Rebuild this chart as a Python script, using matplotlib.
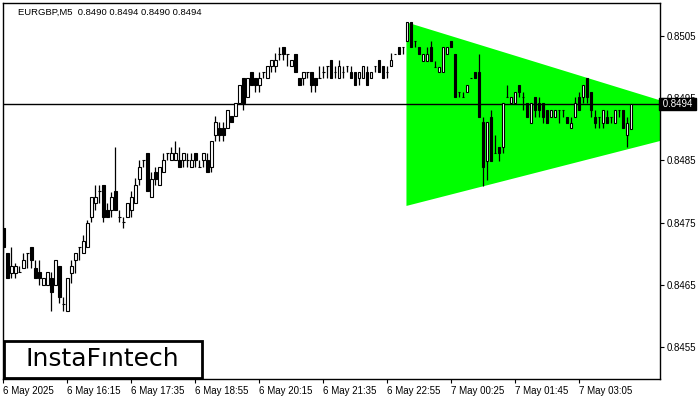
import matplotlib
matplotlib.use("Agg")
import matplotlib.pyplot as plt
from matplotlib.patches import Polygon, Rectangle
import numpy as np

# EURGBP M5 candles (bar 0 = 6 May 14:55)
opens = [
    .84741, .84701, .84669, .84669, .84671, .84678, .84701, .84711, .84678, .84671,
    .84650, .84650, .84661, .84650, .84680, .84619, .84609, .84669, .84690, .84711,
    .84701, .84711, .84759, .84781, .84801, .84810, .84770, .84770, .84801, .84759,
    .84751, .84759, .84770, .84781, .84820, .84851, .84862, .84791, .84831, .84810,
    .84831, .84862, .84851, .84851, .84851, .84851, .84851, .84839, .84862, .84839,
    .84851, .84851, .84839, .84891, .84902, .84902, .84902, .84921, .84921, .84942,
    .84982, .84952, .84992, .84982, .84971, .84992, .84982, .85002, .85002, .85021,
    .85032, .85021, .85002, .85021, .84982, .84982, .84992, .84992, .84982, .84982,
    .84992, .85002, .85011, .84992, .84982, .84992, .85002, .84992, .84992, .84982,
    .84982, .84992, .84982, .85002, .85011, .85002, .84992, .85002, .85021, .85032,
    .85032, .85042, .85073, .85042, .85032, .85010, .85010, .85032, .85000, .84992,
    .84992, .85021, .85042, .85021, .84960, .84952, .84960, .84982, .84992, .84992,
    .84912, .84849, .84920, .84862, .84872, .84872, .84952, .84942, .84942, .84971,
    .84952, .84942, .84910, .84952, .84942, .84942, .84931, .84920, .84920, .84931,
    .84931, .84920, .84902, .84920, .84952, .84952, .84982, .84960, .84920, .84920,
    .84910, .84920, .84920, .84910, .84931, .84931, .84891, .84900,
]
highs = [
    .84741, .84701, .84711, .84685, .84680, .84701, .84701, .84711, .84690, .84690,
    .84661, .84671, .84671, .84690, .84680, .84630, .84661, .84690, .84701, .84711,
    .84730, .84754, .84791, .84810, .84810, .84810, .84781, .84799, .84872, .84770,
    .84759, .84781, .84801, .84822, .84851, .84851, .84862, .84831, .84839, .84839,
    .84862, .84862, .84872, .84881, .84872, .84862, .84862, .84862, .84862, .84851,
    .84862, .84862, .84881, .84921, .84912, .84912, .84931, .84921, .84942, .84971,
    .84982, .84982, .84992, .84982, .84992, .84992, .85002, .85011, .85023, .85032,
    .85032, .85021, .85011, .85021, .84982, .84992, .84992, .84992, .84982, .85002,
    .85002, .85002, .85011, .85002, .85011, .85002, .85002, .85002, .84992, .84992,
    .85002, .85002, .84992, .85002, .85011, .85002, .85002, .85023, .85021, .85032,
    .85032, .85073, .85073, .85042, .85032, .85021, .85032, .85042, .85010, .85000,
    .85032, .85032, .85042, .85021, .84960, .84960, .84971, .84982, .84992, .85021,
    .84920, .84912, .84931, .84891, .84872, .84942, .84971, .84952, .84960, .84971,
    .84960, .84942, .84942, .84952, .84952, .84942, .84931, .84931, .84931, .84931,
    .84931, .84920, .84920, .84952, .84960, .84971, .84982, .84960, .84931, .84920,
    .84931, .84931, .84920, .84931, .84931, .84931, .84920, .84940,
]
lows = [
    .84701, .84661, .84661, .84661, .84671, .84678, .84678, .84678, .84661, .84650,
    .84650, .84650, .84609, .84650, .84621, .84609, .84609, .84653, .84669, .84690,
    .84701, .84711, .84751, .84770, .84781, .84751, .84759, .84759, .84770, .84751,
    .84741, .84759, .84759, .84781, .84810, .84839, .84801, .84791, .84810, .84810,
    .84831, .84851, .84851, .84851, .84839, .84839, .84839, .84839, .84839, .84839,
    .84839, .84831, .84831, .84881, .84881, .84881, .84902, .84912, .84921, .84942,
    .84931, .84952, .84971, .84960, .84960, .84982, .84982, .84992, .84992, .85011,
    .85011, .85002, .85002, .84992, .84971, .84971, .84982, .84960, .84960, .84982,
    .84982, .84982, .84982, .84982, .84982, .84982, .84992, .84982, .84971, .84971,
    .84982, .84971, .84982, .84992, .84992, .84982, .84982, .85002, .85021, .85021,
    .85021, .85042, .85032, .85032, .85021, .85010, .85010, .85010, .85000, .84992,
    .84992, .85021, .85032, .84952, .84952, .84952, .84960, .84982, .84982, .84920,
    .84809, .84818, .84849, .84862, .84849, .84862, .84952, .84942, .84942, .84952,
    .84931, .84920, .84910, .84920, .84920, .84910, .84910, .84920, .84920, .84910,
    .84920, .84910, .84902, .84920, .84931, .84942, .84942, .84920, .84902, .84902,
    .84902, .84910, .84910, .84910, .84920, .84902, .84872, .84900,
]
closes = [
    .84711, .84661, .84680, .84680, .84671, .84690, .84701, .84690, .84661, .84661,
    .84661, .84671, .84638, .84690, .84630, .84619, .84661, .84680, .84701, .84711,
    .84720, .84749, .84791, .84791, .84801, .84759, .84759, .84791, .84770, .84759,
    .84751, .84781, .84791, .84810, .84839, .84851, .84801, .84820, .84820, .84839,
    .84851, .84862, .84862, .84862, .84839, .84862, .84851, .84851, .84851, .84839,
    .84862, .84831, .84881, .84912, .84891, .84891, .84931, .84912, .84942, .84971,
    .84942, .84982, .84971, .84971, .84982, .84992, .85002, .85011, .85011, .85021,
    .85021, .85021, .85011, .84992, .84971, .84992, .84992, .84971, .84971, .84982,
    .84992, .85002, .84982, .84992, .85002, .84992, .85002, .84982, .84971, .84992,
    .85002, .84971, .84992, .85002, .84992, .84982, .84992, .85011, .85021, .85021,
    .85032, .85073, .85032, .85042, .85021, .85021, .85021, .85010, .85000, .85000,
    .85032, .85032, .85032, .84952, .84960, .84952, .84971, .84982, .84982, .84920,
    .84839, .84912, .84849, .84862, .84862, .84942, .84952, .84952, .84960, .84960,
    .84952, .84920, .84942, .84931, .84931, .84920, .84910, .84931, .84931, .84931,
    .84931, .84910, .84910, .84942, .84931, .84971, .84952, .84931, .84910, .84920,
    .84931, .84910, .84920, .84931, .84931, .84902, .84910, .84940,
]

tick_bars = [0, 16, 32, 48, 64, 80, 96, 112, 128, 144]
tick_labels = ["6 May 2025", "6 May 16:15", "6 May 17:35", "6 May 18:55", "6 May 20:15",
               "6 May 21:35", "6 May 22:55", "7 May 00:25", "7 May 01:45", "7 May 03:05"]
price_ticks = [0.8455, 0.8465, 0.8475, 0.8485, 0.8495, 0.8505]
last_price = 0.8494

# symmetrical triangle: left edge top/bottom and apex (bar index, price)
tri_x = [100.8, 100.8, 182.3]
tri_y = [0.85072, 0.84777, 0.84911]

plt.rcParams['font.family'] = ['Liberation Sans', 'DejaVu Sans']

fig = plt.figure(figsize=(7, 4), dpi=100)
ax = fig.add_axes([3 / 700, 21 / 400, 656.5 / 700, 376 / 400])

ax.add_patch(Polygon(np.column_stack([tri_x, tri_y]), closed=True,
                     facecolor="#00ff00", edgecolor="none", zorder=1))
ax.axhline(last_price, color="black", lw=1, zorder=2)

x = np.arange(len(opens))
o = np.array(opens); c = np.array(closes)
ax.vlines(x, lows, highs, color="black", lw=0.9, zorder=3)
lo = np.minimum(o, c); hi = np.maximum(o, c)
cols = np.where(c < o, "black", "white")
ax.bar(x, hi - lo, bottom=lo, width=0.6, color=cols, edgecolor="black",
       linewidth=0.8, zorder=4)

ax.set_xlim(-0.125, 164.1)
ax.set_ylim(0.84499, 0.85103)

ax.yaxis.tick_right()
ax.set_yticks(price_ticks)
ax.set_yticklabels([f"{p:.4f}" for p in price_ticks])
ax.set_xticks(tick_bars)
ax.set_xticklabels(tick_labels, ha="left")
ax.tick_params(axis="y", length=3, width=0.8, pad=2, labelsize=7)
ax.tick_params(axis="x", length=3, width=0.8, pad=2, labelsize=7)
for s in ax.spines.values():
    s.set_linewidth(1)

ax.text(1.0, last_price, " 0.8494 ", transform=ax.get_yaxis_transform(),
        ha="left", va="center", color="white", fontsize=7, clip_on=False, zorder=10,
        bbox=dict(boxstyle="square,pad=0.1", fc="black", ec="black"))

fig.text(18 / 700, 1 - 12 / 400, "EURGBP,M5  0.8490 0.8494 0.8490 0.8494",
         fontsize=6.8, va="center", ha="left")

fig.add_artist(Rectangle((3.5 / 700, 22 / 400), 198 / 700, 37 / 400, transform=fig.transFigure,
                         facecolor="white", edgecolor="black", lw=2, zorder=20))
fig.text(102 / 700, 1 - 359.5 / 400, "InstaFıntech", fontsize=18, family="DejaVu Sans",
         ha="center", va="center", zorder=21)

fig.savefig("out.png", dpi=100)
